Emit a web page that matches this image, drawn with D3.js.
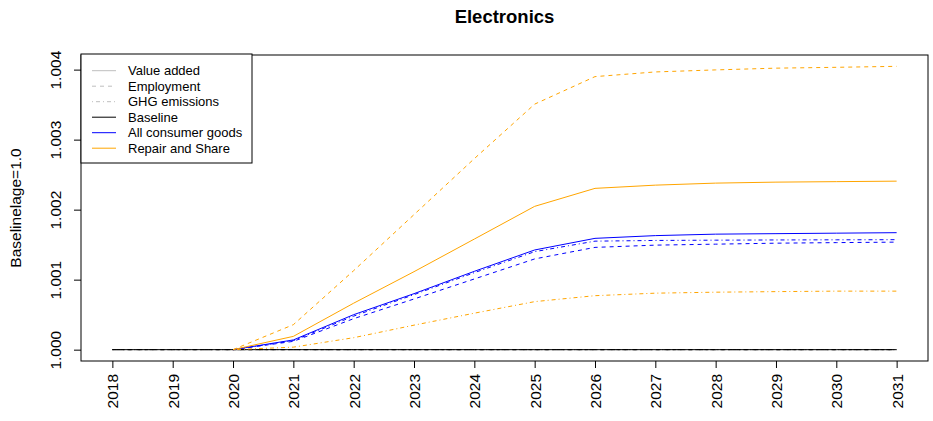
<!DOCTYPE html>
<html>
<head>
<meta charset="utf-8">
<script src="https://cdn.jsdelivr.net/npm/d3@7/dist/d3.min.js"></script>
<style>
  html, body { margin: 0; padding: 0; background: #fff; }
  svg { display: block; font-family: "Liberation Sans", Arial, Helvetica, sans-serif; }
</style>
</head>
<body>
<svg id="chart" width="933" height="421"></svg>
<script>
// Index values relative to the baseline (baseline = 1.0), Electronics sector
const years = [2018, 2019, 2020, 2021, 2022, 2023, 2024, 2025, 2026, 2027, 2028, 2029, 2030, 2031];

// Baseline scenario: all indicators stay at 1.0
const baselineValueAdded = [1, 1, 1, 1, 1, 1, 1, 1, 1, 1, 1, 1, 1, 1];
const baselineEmployment = [1, 1, 1, 1, 1, 1, 1, 1, 1, 1, 1, 1, 1, 1];
const baselineGHG        = [1, 1, 1, 1, 1, 1, 1, 1, 1, 1, 1, 1, 1, 1];

// All consumer goods scenario
const allValueAdded = [null, null, 1.0, 1.000139, 1.0005, 1.0008, 1.001119, 1.001424, 1.00159, 1.001629, 1.00165, 1.001657, 1.001664, 1.001671];
const allEmployment = [null, null, 1.0, 1.000119, 1.000443, 1.000724, 1.00101, 1.001296, 1.001461, 1.001493, 1.001507, 1.001521, 1.001529, 1.001536];
const allGHG        = [null, null, 1.0, 1.000129, 1.000479, 1.000786, 1.0011, 1.0014, 1.00155, 1.00156, 1.001564, 1.001567, 1.001569, 1.001571];

// Repair and Share scenario
const repairValueAdded = [null, null, 1.0, 1.00019, 1.000664, 1.001114, 1.00158, 1.002047, 1.002304, 1.00235, 1.002379, 1.002393, 1.0024, 1.002407];
const repairEmployment = [null, null, 1.0, 1.000357, 1.001129, 1.001929, 1.002729, 1.003507, 1.0039, 1.003967, 1.003996, 1.004021, 1.004033, 1.004047];
const repairGHG        = [null, null, 1.0, 1.000036, 1.000171, 1.00035, 1.000521, 1.000686, 1.000771, 1.000807, 1.000821, 1.000829, 1.000836, 1.000836];

const yTicks = [1.000, 1.001, 1.002, 1.003, 1.004];

const indicators = ["Value added", "Employment", "GHG emissions"];
const scenarios = ["Baseline", "All consumer goods", "Repair and Share"];
const scenarioColors = { "Baseline": "#000000", "All consumer goods": "#0000ff", "Repair and Share": "#ffa500" };
const dashes = { "Value added": null, "Employment": "4,4", "GHG emissions": "1,3,4,3" };

const series = [
  { scenario: "Baseline", indicator: "Value added", values: baselineValueAdded },
  { scenario: "Baseline", indicator: "Employment", values: baselineEmployment },
  { scenario: "Baseline", indicator: "GHG emissions", values: baselineGHG },
  { scenario: "All consumer goods", indicator: "Value added", values: allValueAdded },
  { scenario: "All consumer goods", indicator: "Employment", values: allEmployment },
  { scenario: "All consumer goods", indicator: "GHG emissions", values: allGHG },
  { scenario: "Repair and Share", indicator: "Value added", values: repairValueAdded },
  { scenario: "Repair and Share", indicator: "Employment", values: repairEmployment },
  { scenario: "Repair and Share", indicator: "GHG emissions", values: repairGHG }
];

const svg = d3.select("#chart");
const plot = { left: 81, right: 928, top: 55, bottom: 361 };
const axisFont = "15.5px";

// Axis ranges padded by 4% on each side
const xMin = d3.min(years), xMax = d3.max(years);
const xPad = (xMax - xMin) * 0.04;
const x = d3.scaleLinear().domain([xMin - xPad, xMax + xPad]).range([plot.left, plot.right]);

const allVals = series.flatMap(s => s.values).filter(v => v != null);
const yMin = d3.min(allVals), yMax = d3.max(allVals);
const yPad = (yMax - yMin) * 0.04;
const y = d3.scaleLinear().domain([yMin - yPad, yMax + yPad]).range([plot.bottom, plot.top]);

// Lines
const line = d3.line()
  .defined(d => d.v != null)
  .x(d => x(d.year))
  .y(d => y(d.v));

const lineG = svg.append("g");
series.forEach(s => {
  const pts = years.map((yr, i) => ({ year: yr, v: s.values[i] }));
  lineG.append("path")
    .datum(pts)
    .attr("d", line)
    .attr("fill", "none")
    .attr("stroke", scenarioColors[s.scenario])
    .attr("stroke-width", 1)
    .attr("stroke-dasharray", dashes[s.indicator]);
});

// Plot frame
svg.append("rect")
  .attr("x", plot.left).attr("y", plot.top)
  .attr("width", plot.right - plot.left).attr("height", plot.bottom - plot.top)
  .attr("fill", "none").attr("stroke", "#000").attr("stroke-width", 1);

// X axis
const xAxis = d3.axisBottom(x).tickValues(years).tickFormat(d3.format("d")).tickSize(7).tickSizeOuter(0);
const xg = svg.append("g").attr("transform", `translate(0,${plot.bottom})`).call(xAxis);
xg.select(".domain").remove();
xg.selectAll(".tick line").attr("stroke", "#000");
xg.selectAll(".tick text")
  .attr("transform", "rotate(-90)")
  .attr("x", -13).attr("y", 0).attr("dy", "0.36em")
  .style("text-anchor", "end")
  .style("font-size", axisFont)
  .style("font-family", "'Liberation Sans', Arial, sans-serif")
  .attr("fill", "#000");

// Y axis
const yAxis = d3.axisLeft(y).tickValues(yTicks).tickFormat(d3.format(".3f")).tickSize(7).tickSizeOuter(0);
const yg = svg.append("g").attr("transform", `translate(${plot.left},0)`).call(yAxis);
yg.select(".domain").remove();
yg.selectAll(".tick line").attr("stroke", "#000");
yg.selectAll(".tick text")
  .attr("transform", "rotate(-90)")
  .attr("x", 0).attr("y", -20).attr("dy", 0)
  .style("text-anchor", "middle")
  .style("font-size", axisFont)
  .style("font-family", "'Liberation Sans', Arial, sans-serif")
  .attr("fill", "#000");

// Title and axis label
svg.append("text")
  .attr("x", (plot.left + plot.right) / 2).attr("y", 23)
  .attr("text-anchor", "middle")
  .style("font-size", "18.5px").style("font-weight", "bold")
  .text("Electronics");

svg.append("text")
  .attr("transform", `translate(21,${(plot.top + plot.bottom) / 2}) rotate(-90)`)
  .attr("text-anchor", "middle")
  .style("font-size", axisFont)
  .text("Baselinelage=1.0");

// Legend
const legendItems = [
  ...indicators.map(ind => ({ label: ind, color: "#bebebe", dash: dashes[ind] })),
  ...scenarios.map(sc => ({ label: sc, color: scenarioColors[sc], dash: null }))
];
const lg = svg.append("g");
lg.append("rect")
  .attr("x", plot.left).attr("y", plot.top - 1)
  .attr("width", 171).attr("height", 109)
  .attr("fill", "#fff").attr("stroke", "#000").attr("stroke-width", 1);
legendItems.forEach((d, i) => {
  const cy = 70.7 + i * 15.5;
  lg.append("line")
    .attr("x1", 92).attr("x2", 116).attr("y1", cy).attr("y2", cy)
    .attr("stroke", d.color).attr("stroke-width", 1)
    .attr("stroke-dasharray", d.dash);
  lg.append("text")
    .attr("x", 128).attr("y", cy).attr("dy", "0.35em")
    .style("font-size", "13px")
    .text(d.label);
});
</script>
</body>
</html>
